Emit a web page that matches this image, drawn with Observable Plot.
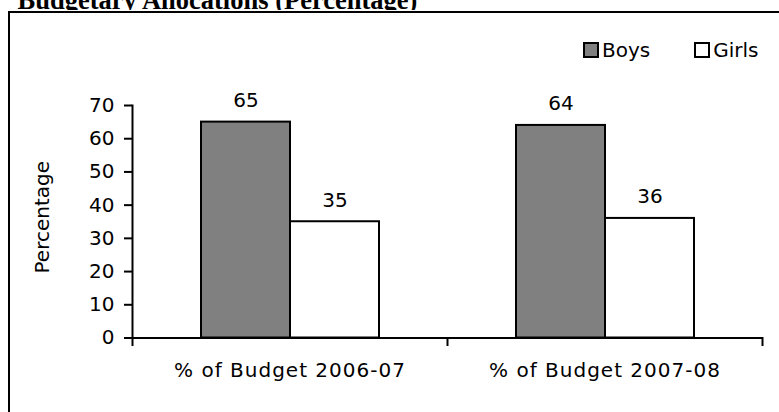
<!DOCTYPE html>
<html>
<head>
<meta charset="utf-8">
<script src="https://cdn.jsdelivr.net/npm/d3@7"></script>
<script src="https://cdn.jsdelivr.net/npm/@observablehq/plot@0.6"></script>
<style>
  html, body { margin: 0; padding: 0; background: #fff; }
  #wrap { position: relative; width: 779px; height: 412px; overflow: hidden; background: #fff; }
  #titleClip { position: absolute; left: 0; top: 0; width: 779px; height: 10px; overflow: hidden; }
  #title { position: absolute; left: 17.5px; top: -13px; white-space: nowrap;
           font-family: "Liberation Serif", "Times New Roman", serif; font-weight: bold;
           font-size: 26.5px; line-height: 26.5px; color: #000; }
  #box { position: absolute; left: 8px; top: 11px; width: 820px; height: 460px;
         border-left: 2px solid #000; border-top: 2px solid #000; background: #fff; }
  #chart { position: absolute; left: 0; top: 0; }
  #chart g[aria-label="fx-axis tick label"] text { letter-spacing: 1px; }
  #chart g[aria-label="y-title"] text { letter-spacing: 0.3px; }
  #legend { position: absolute; top: 38px; left: 583px; display: flex; align-items: center;
            font-family: "DejaVu Sans", Verdana, sans-serif; font-size: 20px; color: #000; line-height: 24px; }
  .item { display: flex; align-items: center; }
  .swatch { width: 11.5px; height: 11.5px; border: 2px solid #000; margin-right: 3.5px; box-sizing: content-box; }
</style>
</head>
<body>
<div id="wrap">
  <div id="titleClip"><div id="title">Budgetary Allocations (Percentage)</div></div>
  <div id="box"></div>
  <div id="chart"></div>
  <div id="legend"></div>
</div>
<script>
// Share of the budget going to boys and girls, per budget year
const categories = ["% of Budget 2006-07", "% of Budget 2007-08"];
const series = ["Boys", "Girls"];
const boys = [65, 64];
const girls = [35, 36];
const yTicks = [0, 10, 20, 30, 40, 50, 60, 70];
const yTitle = "Percentage";
const seriesColors = ["#808080", "#ffffff"];

const rows = categories.flatMap((category, i) => [
  {category, series: series[0], value: boys[i]},
  {category, series: series[1], value: girls[i]}
]);

const width = 779, height = 412;
const marginTop = 105, marginRight = 17, marginBottom = 74.5, marginLeft = 131;
const innerHeight = height - marginTop - marginBottom;
const font = "'DejaVu Sans', Verdana, sans-serif";

const chart = Plot.plot({
  width, height, marginTop, marginRight, marginBottom, marginLeft,
  style: {background: "transparent", fontFamily: font, fontSize: "20px", color: "#000", overflow: "visible"},
  fx: {domain: categories, padding: 0, axis: null},
  x: {domain: series, paddingInner: 0, paddingOuter: 0.753, axis: null},
  y: {domain: [0, 70], axis: null},
  color: {domain: series, range: seriesColors},
  marks: [
    Plot.barY(rows, {fx: "category", x: "series", y: "value", fill: "series", stroke: "#000", strokeWidth: 2}),
    Plot.text(rows, {fx: "category", x: "series", y: "value", text: d => String(d.value),
                     lineAnchor: "bottom", dy: -15, fill: "#000", fontSize: 20}),
    Plot.ruleY([0], {stroke: "#000", strokeWidth: 2}),
    // vertical axis line on the left-most panel only
    Plot.frame({anchor: "left", facetAnchor: "left", stroke: "#000", strokeWidth: 2}),
    // category boundary ticks under the baseline
    Plot.frame({anchor: "left", insetTop: innerHeight, insetBottom: -7, stroke: "#000", strokeWidth: 2}),
    Plot.frame({anchor: "right", facetAnchor: "right", insetTop: innerHeight, insetBottom: -7, stroke: "#000", strokeWidth: 2}),
    Plot.axisY({ticks: yTicks, tickSize: 8, tickPadding: 10, strokeWidth: 2, fontSize: 20, label: null}),
    Plot.text([yTitle], {frameAnchor: "left", facetAnchor: "left", rotate: -90, textAnchor: "middle", lineAnchor: "top",
                         dx: -98, dy: -4.5, fontSize: 20, fill: "#000", ariaLabel: "y-title"}),
    Plot.axisFx({anchor: "bottom", tickSize: 0, tickPadding: 25, fontSize: 20, label: null})
  ]
});
document.getElementById("chart").appendChild(chart);

// Legend
const legend = d3.select("#legend");
series.forEach((name, i) => {
  const item = legend.append("div").attr("class", "item")
    .style("margin-right", i === 0 ? "44px" : "0");
  item.append("div").attr("class", "swatch").style("background", seriesColors[i]);
  item.append("span").text(name);
});
</script>
</body>
</html>
